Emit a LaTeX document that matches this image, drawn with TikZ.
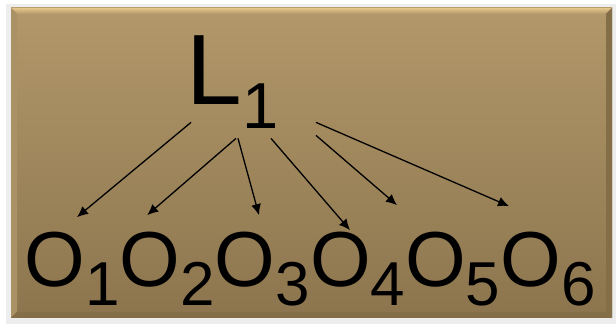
\documentclass[tikz,border=0pt]{standalone}
\usepackage{fontspec}
\setmainfont{Liberation Sans}
\usetikzlibrary{arrows.meta}

\definecolor{boxtop}{RGB}{178,152,106}
\definecolor{boxbottom}{RGB}{140,117,78}
\definecolor{bevellight}{RGB}{228,198,140}
\definecolor{bevelleft}{RGB}{170,146,100}
\definecolor{beveldark}{RGB}{132,110,72}

\newcommand{\bigsub}[1]{\raisebox{-12pt}{\fontsize{32.5}{32.5}\selectfont #1}}
\newcommand{\smallsub}[1]{\raisebox{-9.5pt}{\fontsize{31}{31}\selectfont #1}}

\tikzset{
  letter/.style={inner sep=0pt,anchor=base west},
  bigletter/.style={letter,font=\fontsize{50}{50}\selectfont},
  obsletter/.style={letter,font=\fontsize{39}{39}\selectfont},
  link/.style={-{Latex[length=5.5pt,width=5pt]},line width=0.65pt}
}

\begin{document}
\begin{tikzpicture}[x=0.5pt,y=-0.5pt]
    \useasboundingbox (0,0) rectangle (616,324);
    % panel
    \fill[black!7] (6,4) rectangle (616,324);
    \shade[top color=boxtop,bottom color=boxbottom] (11,8) rectangle (612,318);
    \shade[top color=bevellight,bottom color=boxtop] (11,8) -- (612,8) -- (606,14) -- (17,14) -- cycle;
    \fill[bevelleft] (11,8) -- (17,14) -- (17,312) -- (11,318) -- cycle;
    \fill[beveldark] (612,8) -- (612,318) -- (606,312) -- (606,14) -- cycle;
    \fill[beveldark] (11,318) -- (612,318) -- (606,312) -- (17,312) -- cycle;

    \node[bigletter] (l1) at (186,105) {L\bigsub{1}};
    \node[obsletter] (o1) at (24,287) {O\smallsub{1}};
    \node[obsletter] (o2) at (119.2,287) {O\smallsub{2}};
    \node[obsletter] (o3) at (214.4,287) {O\smallsub{3}};
    \node[obsletter] (o4) at (309.6,287) {O\smallsub{4}};
    \node[obsletter] (o5) at (404.8,287) {O\smallsub{5}};
    \node[obsletter] (o6) at (500,287) {O\smallsub{6}};

    \path [link] ([shift={(5,-7)}]l1.south west) edge ([shift={(53,-15)}]o1.north west);
    \path [link] ([shift={(50,9)}]l1.south west) edge ([shift={(28,-17)}]o2.north west);
    \path [link] ([shift={(52,9)}]l1.south west) edge ([shift={(44.6,-17)}]o3.north west);
    \path [link] ([shift={(85,9)}]l1.south west) edge ([shift={(40.4,-2)}]o4.north west);
    \path [link] ([shift={(130,6)}]l1.south west) edge ([shift={(-7.8,-27)}]o5.north west);
    \path [link] ([shift={(130,-7)}]l1.south west) edge ([shift={(9,-26)}]o6.north west);
\end{tikzpicture}
\end{document}
